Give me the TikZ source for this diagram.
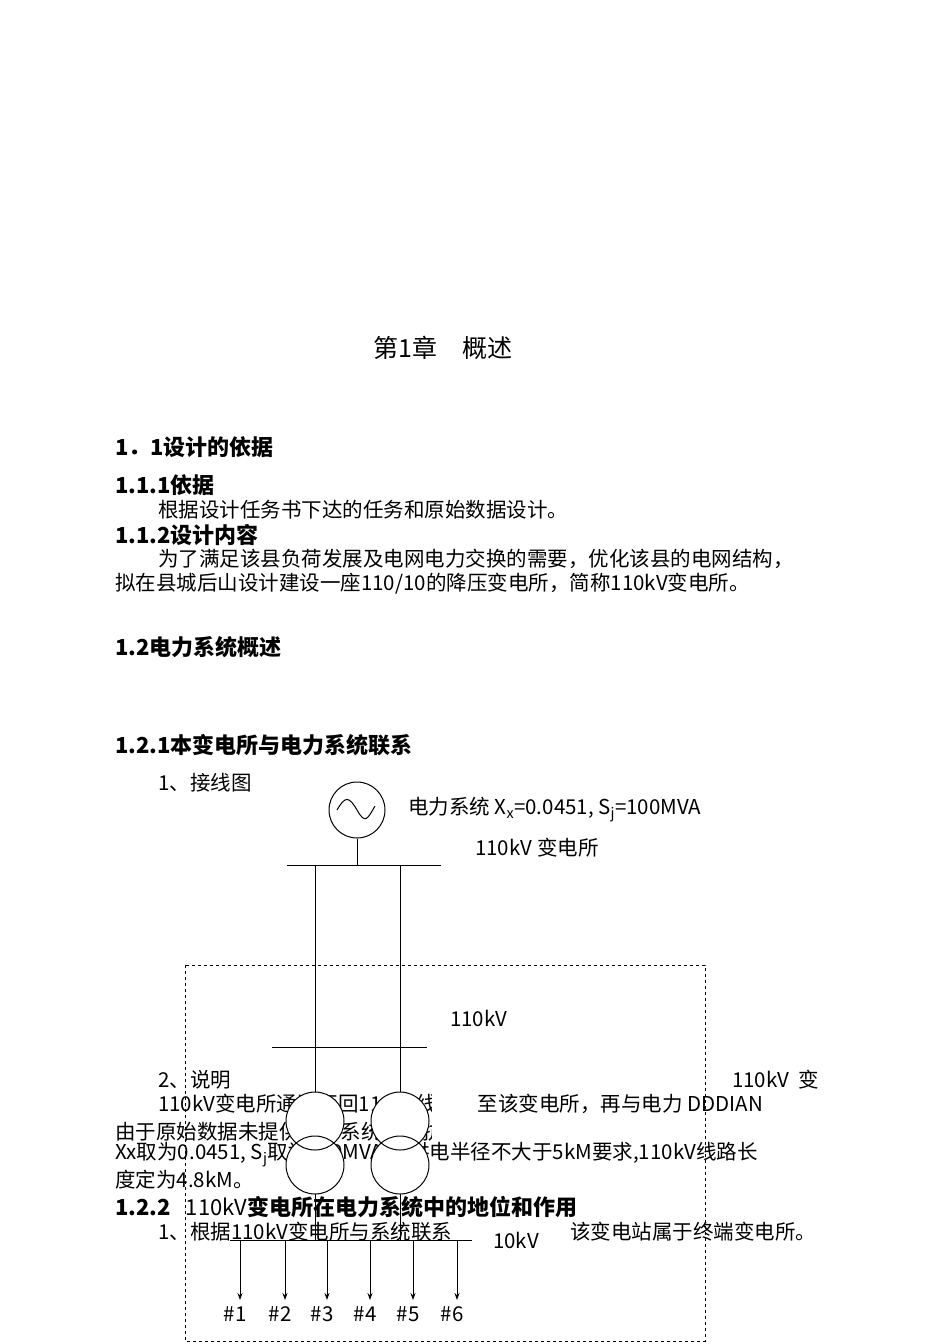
\documentclass[tikz,border=0pt]{standalone}
\usepackage{fontspec}
\setmainfont{Liberation Serif}
\newfontfamily\cjk{Noto Sans CJK SC}
\usetikzlibrary{arrows.meta}
\begin{document}
\begin{tikzpicture}[x=1pt,y=-1pt,
 txt/.style={anchor=west,inner sep=0pt,font=\cjk\fontsize{20.5}{20.5}\selectfont},
 hd/.style={anchor=west,inner sep=0pt,font=\cjk\bfseries\fontsize{22}{22}\selectfont},
 ln/.style={line width=1pt},
 wc/.style={circle,draw,line width=1pt,minimum size=56pt,inner sep=0pt}]
\useasboundingbox (0,0) rectangle (950,1344);
\fill[white] (0,0) rectangle (950,1344);
\node[inner sep=0pt,font=\cjk\fontsize{25}{25}\selectfont] (t0) at (443,348) {第1章\quad 概述};
\node[hd] (h1) at (115,447) {1．1设计的依据};
\node[hd] (h2) at (115,485) {1.1.1依据};
\node[txt] (p1) at (158,510) {根据设计任务书下达的任务和原始数据设计。};
\node[hd] (h3) at (115,535) {1.1.2设计内容};
\node[txt] (p2) at (158,559) {为了满足该县负荷发展及电网电力交换的需要，优化该县的电网结构，};
\node[txt] (p3) at (115,584) {拟在县城后山设计建设一座110/10的降压变电所，简称110kV变电所。};
\node[hd] (h4) at (115,647) {1.2电力系统概述};
\node[hd] (h5) at (115,745) {1.2.1本变电所与电力系统联系};
\node[txt] (p4) at (158,783) {1、接线图};
\node[txt] (l1) at (408,810) {电力系统 X\textsubscript{x}=0.0451, S\textsubscript{j}=100MVA};
\node[txt] (l2) at (475,848) {110kV 变电所};
\node[txt] (l3) at (450,1018) {110kV};
\node[txt] (q1) at (158,1080) {2、说明};
\node[txt] (q2) at (732,1080) {110kV\ \ 变};
\node[txt] (q3) at (158,1104) {110kV变电所通过两回110kV线路接至该变电所，再与电力 DDDIAN};
\node[txt] (q4) at (115,1132) {由于原始数据未提供电力系统的阻抗和线路长度L。这里将};
\fill[white] (432,1120) rectangle (662,1144);
\fill[white] (432,1092) rectangle (478,1116);
\node[txt] (q5) at (115,1155) {Xx取为0.0451, S\textsubscript{j}取为100MVA;按供电半径不大于5kM要求,110kV线路长};
\node[txt] (q6) at (115,1180) {度定为4.8kM。};
\node[hd] (h6) at (115,1207) {1.2.2\ \ \ {\mdseries 110kV}变电所在电力系统中的地位和作用};
\node[txt] (q7) at (158,1232) {1、根据110kV变电所与系统联系};
\fill[white] (515,1220) rectangle (566,1246);
\node[txt] (q8) at (570,1232) {该变电站属于终端变电所。};
\node[txt] (l4) at (493,1240) {10kV};
% diagram
\node[wc] (g) at (357,810) {};
\draw[ln] ([xshift=-20pt]g.center) .. controls +(8,-14) and +(-8,-14) .. ([xshift=0pt]g.center) .. controls +(8,14) and +(-8,14) .. ([xshift=18pt,yshift=4pt]g.center);
\coordinate (b1l) at (287,865); \coordinate (b1r) at (441,865);
\draw[ln] (b1l) -- (b1r);
\draw[ln] (g.south) -- (357,865);
\coordinate (b2l) at (272,1047); \coordinate (b2r) at (427,1047);
\draw[ln] (b2l) -- (b2r);
\draw[dashed,line width=0.8pt] (185,965) rectangle (705,1341);
\coordinate (b3l) at (230,1240); \coordinate (b3r) at (472,1240);
\draw[ln] (315,865) -- (315,1240);
\draw[ln] (400,865) -- (400,1240);
\draw[ln] (b3l) -- (b3r);
\foreach \c in {1,2}{
 \pgfmathsetmacro\xx{\c==1?315:400}
 \fill[white] (\xx,1121) circle (29pt);
 \fill[white] (\xx,1165) circle (29pt);
 \draw[ln] (\xx,1121) circle (29pt);
 \draw[ln] (\xx,1165) circle (29pt);
}
\foreach \x/\n in {240/1,285/2,327/3,370/4,413/5,457/6}{
 \coordinate (f\n) at (\x,1300);
 \draw[ln,-{Stealth[length=7pt,width=5pt]}] (\x,1240) -- (f\n);
 \node[txt,anchor=center] (lab\n) at (\x-5,1314) {\#\n};
}
\end{tikzpicture}
\end{document}
